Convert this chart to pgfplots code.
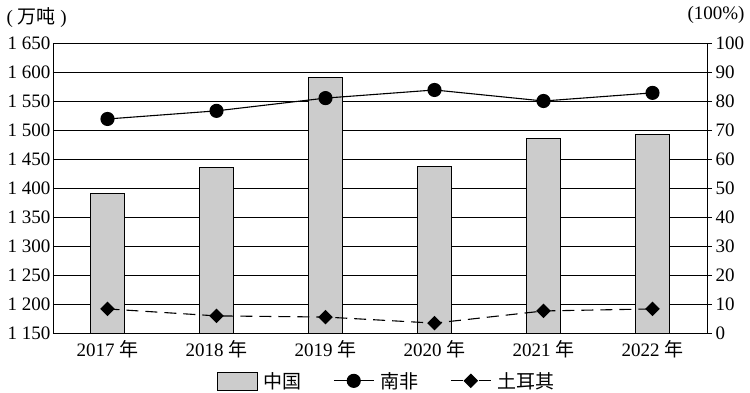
\documentclass[border=0pt]{standalone}
\usepackage{pgfplots}
\pgfplotsset{compat=1.18}
\usepackage{fontspec}
\setmainfont{Liberation Serif}
\newfontfamily\cjk{Noto Sans CJK SC}
\pgfplotsset{longline/.style={legend image code/.code={\draw[mark repeat=2,mark phase=2,##1] plot coordinates {(0pt,0pt)(20pt,0pt)(40pt,0pt)};}},
  dashline/.style={legend image code/.code={\draw[##1,solid] (0pt,0pt)--(12pt,0pt) (28pt,0pt)--(40pt,0pt); \draw[##1] plot coordinates {(20pt,0pt)};}}}
\begin{document}
\begin{tikzpicture}[font=\fontsize{19}{22}\selectfont]
\path[use as bounding box] (-53pt,-60pt) rectangle (697pt,333pt);
\begin{axis}[
  scale only axis, width=654pt, height=290pt,
  at={(0pt,0pt)}, anchor=south west,
  xmin=-0.5, xmax=5.5, ymin=1150, ymax=1650,
  xtick={0,1,2,3,4,5},
  xticklabels={2017 {\cjk 年},2018 {\cjk 年},2019 {\cjk 年},2020 {\cjk 年},2021 {\cjk 年},2022 {\cjk 年}},
  ytick={1150,1200,...,1650},
  ymajorgrids, grid style={black, line width=0.7pt},
  xtick style={draw=none}, ytick style={draw=none},
  /pgf/number format/assume math mode=true,
  yticklabel style={/pgf/number format/1000 sep={\ }, xshift=1pt},
  axis line style={line width=0.9pt},
  ybar, bar width=34pt,
]
\addplot[ybar, fill=black!20, draw=black, line width=0.6pt] coordinates {(0,1390)(1,1436)(2,1591)(3,1437)(4,1486)(5,1493)};
\end{axis}
\begin{axis}[
  scale only axis, width=654pt, height=290pt,
  at={(0pt,0pt)}, anchor=south west,
  xmin=-0.5, xmax=5.5, ymin=0, ymax=100,
  axis y line*=right, axis x line=none,
  ytick={0,10,...,100},
  tick align=outside, major tick length=5pt,
  ytick style={line width=0.7pt, black},
  axis line style={line width=0.9pt},
  /pgf/number format/assume math mode=true,
  legend style={at={(0.513,-0.165)}, anchor=center, draw=none, fill=none,
    legend columns=3, nodes={inner xsep=6pt},
    /tikz/every even column/.append style={column sep=26pt}},
]
\addlegendimage{legend image code/.code={\draw[fill=black!20,draw=black,line width=0.6pt] (0pt,-9pt) rectangle (40pt,9pt);}}
\addlegendentry{\cjk 中国}
\addplot[black, line width=1.1pt, mark=*, mark size=6.5pt, longline]
  coordinates {(0,73.8)(1,76.6)(2,81)(3,83.8)(4,80)(5,82.8)};
\addlegendentry{\cjk 南非}
\addplot[black, line width=1.1pt, dash pattern=on 12pt off 7pt, mark=square*, mark size=4.6pt, mark options={rotate=45, solid}, dashline]
  coordinates {(0,8.3)(1,5.9)(2,5.5)(3,3.4)(4,7.6)(5,8.3)};
\addlegendentry{\cjk 土耳其}
\end{axis}
\node[anchor=west] at (-50pt,315pt) {(\ {\cjk 万吨}\ )};
\node at (663pt,318pt) {(100\%)};
\end{tikzpicture}
\end{document}
